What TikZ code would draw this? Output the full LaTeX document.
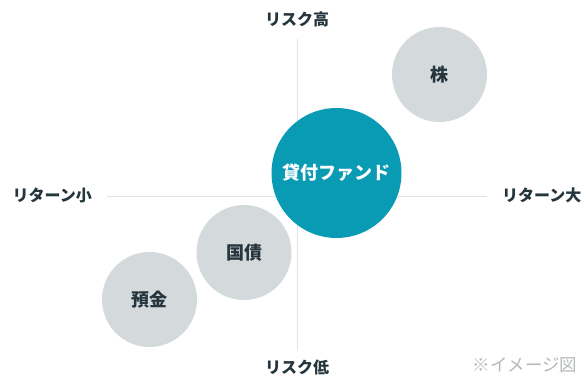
\documentclass[tikz,border=0pt]{standalone}
\usepackage{fontspec}
\newfontfamily\jpfont{Noto Sans CJK JP}
\usetikzlibrary{positioning}
\definecolor{fundteal}{HTML}{0A9BB4}
\definecolor{assetgray}{HTML}{D4D9DC}
\definecolor{inkdark}{HTML}{25353D}
\definecolor{axisgray}{HTML}{E1E4E6}
\definecolor{notegray}{HTML}{B4B9BC}
\tikzset{
    axisline/.style={ % Sets the properties for both axes
        draw=axisgray,
        line width=0.9pt
    },
    axislabel/.style={ % Labels at the ends of the axes
        font=\jpfont\bfseries\fontsize{16}{16}\selectfont,
        text=inkdark,
        inner sep=0pt,
        text height=12.8pt, text depth=1.6pt
    },
    asset/.style={ % Grey bubbles
        circle,
        fill=assetgray,
        inner sep=0pt,
        minimum size=95pt,
        text=inkdark,
        font=\jpfont\bfseries\fontsize{18}{18}\selectfont
    },
    fund/.style={ % The highlighted bubble
        asset,
        fill=fundteal,
        minimum size=130pt,
        text=white
    }
}

\begin{document}
\begin{tikzpicture}[x=1pt, y=-1pt]
        \useasboundingbox (0,0) rectangle (587,381);
        % achsen
        \coordinate (risktop)    at (297,39);
        \coordinate (riskbot)    at (297,351);
        \coordinate (retleft)    at (107,196);
        \coordinate (retright)   at (487,196);
        \draw[axisline] (risktop) -- (riskbot);
        \draw[axisline] (retleft) -- (retright);
        \node[axislabel, above=11.8pt of risktop]   (riskhigh)  {リスク高};
        \node[axislabel, below=9.8pt of riskbot]    (risklow)   {リスク低};
        \node[axislabel, left=15pt of retleft]      (retsmall)  {リターン小};
        \node[axislabel, right=15pt of retright]    (retlarge)  {リターン大};
        % blasen
        \node[asset]    (stock)     at (439.5,74.5)  {株};
        \node[asset]    (bond)      at (244,252.5)   {国債};
        \node[asset]    (deposit)   at (149.5,299.5) {預金};
        \node[fund]     (loanfund)  at (336.5,173)   {貸付ファンド};
        % hinweis
        \node[font=\jpfont\fontsize{17.5}{17.5}\selectfont, text=notegray,
              inner sep=0pt] (note) at (525,365) {※イメージ図};
\end{tikzpicture}
\end{document}
